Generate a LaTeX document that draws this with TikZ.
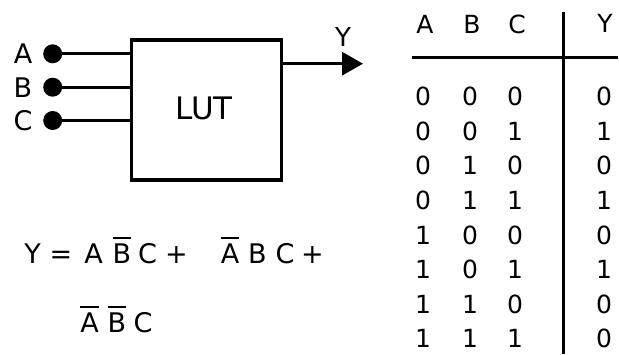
\documentclass[tikz,border=0pt]{standalone}
\usepackage{fontspec}
\setmainfont{DejaVu Sans}
\usetikzlibrary{arrows.meta}
\newcommand\ovbar[1]{\vbox{\hrule height 2.8pt\kern 4pt\hbox{#1}}}
\begin{document}
\begin{tikzpicture}[x=1pt,y=-1pt,
  wire/.style={line width=3pt},
  pin/.style={circle,fill=black,inner sep=0pt,minimum size=19pt},
  lab/.style={font=\fontsize{27}{30}\selectfont,inner sep=0pt},
  eq/.style={font=\fontsize{27}{30}\selectfont,inner sep=0pt,anchor=base},
  tab/.style={font=\fontsize{25}{28}\selectfont,inner sep=0pt}]
\useasboundingbox (0,0) rectangle (619,354);
% LUT box
\node[draw,line width=3.2pt,minimum width=150pt,minimum height=140pt,inner sep=0pt] (lut) at (206.7,110) {};
\node[font=\fontsize{31}{36}\selectfont,inner sep=0pt] (lutl) at (204,108) {LUT};
% inputs
\foreach \n/\y in {A/53.8,B/87.2,C/120.5}{
  \node[pin] (p\n) at (52.7,\y) {};
  \node[lab] (l\n) at (23,\y) {\n};
  \draw[wire] (p\n.center) -- (lut.west |- p\n.center);
}
% output
\coordinate (outs) at (281.7,63.7);
\coordinate (oute) at (363,63.7);
\draw[wire,-{Triangle[length=21pt,width=23pt]}] (outs) -- (oute);
\node[lab,font=\fontsize{26}{30}\selectfont] (ly) at (343,37) {Y};
% equation
\node[eq] (e1) at (32.5,263) {Y};
\node[eq] (e2) at (61,263) {=};
\node[eq] (e3) at (93.5,263) {A};
\node[eq] (e4) at (122,263) {\ovbar{B}};
\node[eq] (e5) at (147.5,263) {C};
\node[eq] (e6) at (176.5,263) {+};
\node[eq] (e7) at (230,263) {\ovbar{A}};
\node[eq] (e8) at (257.5,263) {B};
\node[eq] (e9) at (285,263) {C};
\node[eq] (e10) at (312.5,263) {+};
\node[eq] (f1) at (89.5,332) {\ovbar{A}};
\node[eq] (f2) at (117,332) {\ovbar{B}};
\node[eq] (f3) at (143,332) {C};
% truth table
\coordinate (vt) at (563,12);
\coordinate (vb) at (563,354);
\coordinate (hl) at (412,57);
\coordinate (hr) at (618,57);
\draw[wire] (vt) -- (vb);
\draw[wire] (hl) -- (hr);
\node[tab] (hA) at (425,24) {A};
\node[tab] (hB) at (472,24) {B};
\node[tab] (hC) at (517,24) {C};
\node[tab] (hY) at (605,23) {Y};
\foreach \a/\b/\c/\yv [count=\i from 0] in {0/0/0/0,0/0/1/1,0/1/0/0,0/1/1/1,1/0/0/0,1/0/1/1,1/1/0/0,1/1/1/0}{
  \pgfmathsetmacro\ry{96.5+\i*34.6}
  \node[tab] (ra\i) at (423,\ry) {\a};
  \node[tab] (rb\i) at (470,\ry) {\b};
  \node[tab] (rc\i) at (515,\ry) {\c};
  \node[tab] (ry\i) at (604,\ry) {\yv};
}
\end{tikzpicture}
\end{document}
